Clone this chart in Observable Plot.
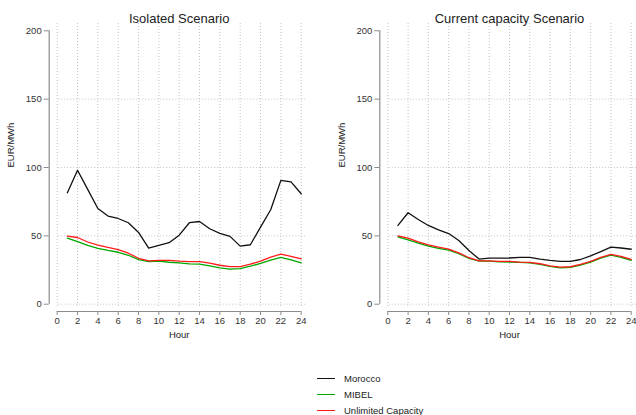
<!DOCTYPE html>
<html>
<head>
<meta charset="utf-8">
<script src="https://cdn.jsdelivr.net/npm/d3@7"></script>
<script src="https://cdn.jsdelivr.net/npm/@observablehq/plot@0.6"></script>
<style>
  html, body { margin: 0; padding: 0; background: #fff; }
  body { width: 636px; height: 415px; overflow: hidden; font-family: "Liberation Sans", Arial, sans-serif; }
  #panels { display: flex; flex-direction: row; }
  #legend { margin-top: 20px; margin-left: 317px; font-size: 9.5px; color: #222; }
  .row { display: flex; align-items: center; height: 16px; }
  .sw { width: 18px; height: 0; border-top: 1.3px solid; margin-right: 9px; }
</style>
</head>
<body>
<div id="panels"></div>
<div id="legend"></div>
<script>
const hours = [1,2,3,4,5,6,7,8,9,10,11,12,13,14,15,16,17,18,19,20,21,22,23,24];
const seriesNames = ["Morocco", "MIBEL", "Unlimited Capacity"];
const seriesColors = ["#111111", "#00a800", "#ff1a1a"];
const panelTitles = ["Isolated Scenario", "Current capacity Scenario"];
const xTicks = [0,2,4,6,8,10,12,14,16,18,20,22,24];
const yTicks = [0,50,100,150,200];
const yGridTicks = [0,50,100,150];

const isoMorocco = [81.5, 98, 84, 70, 64.5, 62.7, 59.6, 52.5, 41, 43, 45, 50.5, 59.6, 60.5, 55.2, 51.8, 49.6, 42.5, 43.5, 56.4, 69.1, 90.6, 89.5, 80.8];
const isoMibel   = [48.3, 45.7, 43, 40.8, 39.3, 38, 35.8, 32.6, 31.2, 31.5, 30.7, 30.3, 29.5, 29.3, 28, 26.6, 25.6, 26, 27.8, 29.8, 32.2, 34.2, 32.5, 30.3];
const isoUnlim   = [49.8, 48.8, 45.5, 43.2, 41.5, 40, 37.3, 33.6, 31.7, 32, 32, 31.5, 31.2, 31.2, 30, 28.5, 27.5, 27.5, 29.3, 31.5, 34.4, 36.6, 35, 33.2];
const curMorocco = [57.6, 66.9, 62, 57.6, 54.4, 51.7, 46.6, 39.3, 33, 33.7, 33.7, 33.8, 34.2, 34.2, 33, 32, 31.3, 31.3, 32.7, 35.4, 38.5, 41.8, 41.1, 40.2];
const curMibel   = [49.3, 47.1, 44.6, 42.5, 40.8, 39.5, 36.9, 33.5, 31.5, 31.5, 31, 30.8, 30.6, 30.3, 29.1, 27.6, 26.6, 26.9, 28.6, 30.8, 33.7, 35.9, 34.2, 32];
const curUnlim   = [50, 48.3, 45.6, 43.4, 41.7, 40.3, 37.6, 34, 31.7, 31.7, 31.3, 31.3, 30.8, 30.6, 29.6, 28.1, 27.1, 27.4, 29.1, 31.3, 34.2, 36.4, 35, 32.8];

function toRows(lists) {
  const rows = [];
  lists.forEach((vals, i) => vals.forEach((v, j) => rows.push({hour: hours[j], value: v, series: seriesNames[i]})));
  return rows;
}

const panels = [
  {title: panelTitles[0], rows: toRows([isoMorocco, isoMibel, isoUnlim]), ml: 56.7, mr: 17.3},
  {title: panelTitles[1], rows: toRows([curMorocco, curMibel, curUnlim]), ml: 69.3, mr: 5.3}
];

const axisGray = "#8c8c8c";
const gridGray = "#c4c4c4";
const font = "Liberation Sans, Arial, sans-serif";

for (const p of panels) {
  const chart = Plot.plot({
    width: 318,
    height: 350,
    marginLeft: p.ml,
    marginRight: p.mr,
    marginTop: 30.3,
    marginBottom: 46.3,
    style: {fontFamily: font, fontSize: "9.5px", color: "#222", background: "#fff"},
    x: {domain: [0, 24]},
    y: {domain: [0, 200]},
    color: {domain: seriesNames, range: seriesColors},
    marks: [
      Plot.gridY(yGridTicks, {stroke: gridGray, strokeOpacity: 1, strokeDasharray: "1,2", insetRight: -6.3, insetLeft: 1.5}),
      Plot.gridX(xTicks, {stroke: gridGray, strokeOpacity: 1, strokeDasharray: "1,2", insetTop: -7.3, insetBottom: -3}),
      Plot.ruleX([0], {y1: 0, y2: 200, dx: -8, stroke: axisGray, strokeWidth: 1.2}),
      Plot.ruleY([0], {x1: 0, x2: 24, dy: 7.3, stroke: axisGray, strokeWidth: 1.2}),
      Plot.axisY(yTicks, {dx: -8, tickSize: 5, tickPadding: 2.5, stroke: axisGray, label: null, fill: "#333"}),
      Plot.axisX(xTicks, {dy: 7.3, tickSize: 4, tickPadding: 2, stroke: axisGray, label: null, fill: "#333"}),
      Plot.line(p.rows, {x: "hour", y: "value", stroke: "series", z: "series", strokeWidth: 1.3}),
      Plot.text([p.title], {frameAnchor: "top", dy: -17, fontSize: 13, fill: "#222"}),
      Plot.text(["Hour"], {frameAnchor: "bottom", dy: 33.3, fontSize: 9.5, fill: "#222"}),
      Plot.text(["EUR/MWh"], {frameAnchor: "left", dx: -46, rotate: -90, fontSize: 9.5, fill: "#222"})
    ]
  });
  document.getElementById("panels").appendChild(chart);
}

const legend = document.getElementById("legend");
seriesNames.forEach((name, i) => {
  const row = document.createElement("div");
  row.className = "row";
  const sw = document.createElement("div");
  sw.className = "sw";
  sw.style.borderTopColor = seriesColors[i];
  const lab = document.createElement("span");
  lab.textContent = name;
  row.appendChild(sw);
  row.appendChild(lab);
  legend.appendChild(row);
});
</script>
</body>
</html>
